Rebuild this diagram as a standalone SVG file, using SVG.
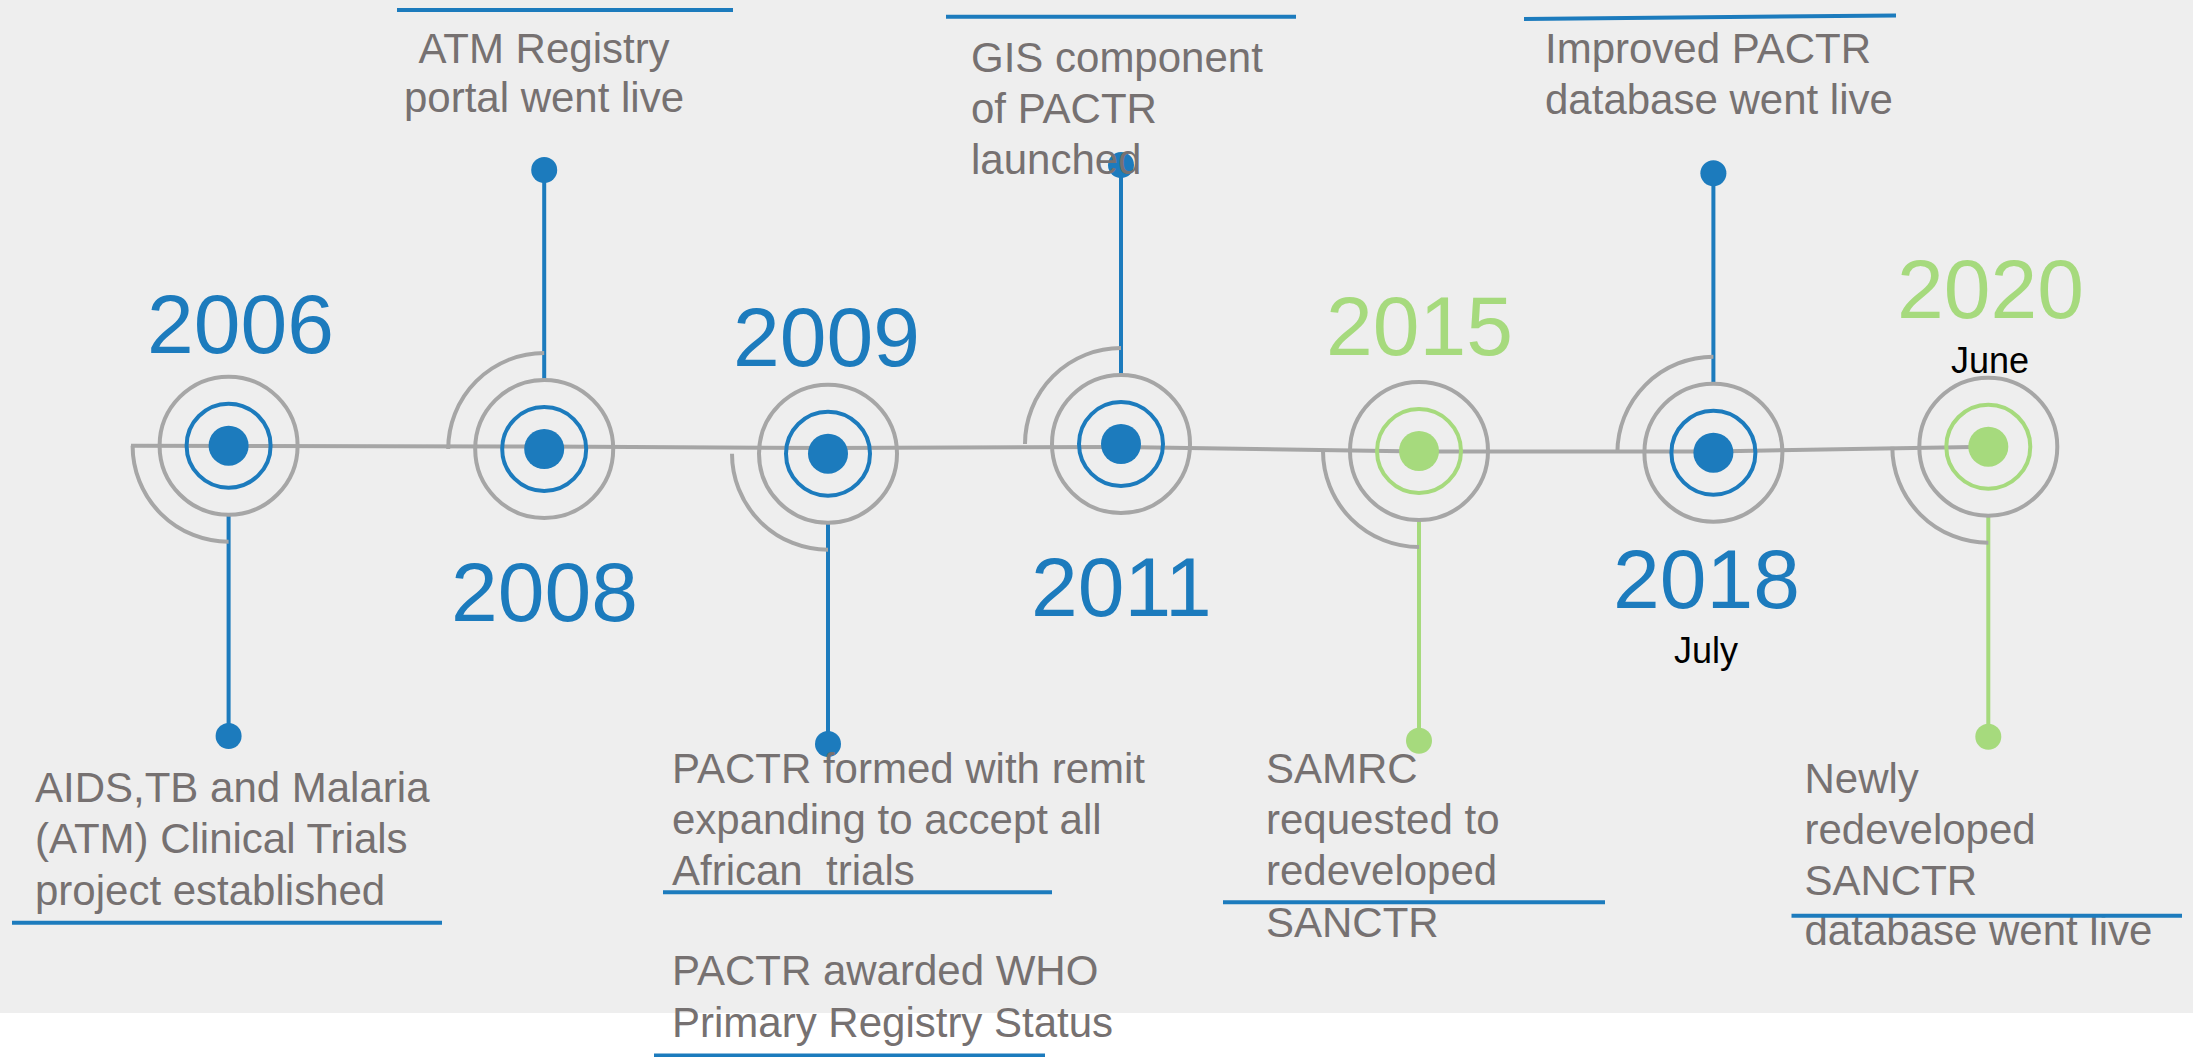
<svg xmlns="http://www.w3.org/2000/svg" width="2193" height="1057" viewBox="0 0 2193 1057">
  <style>
    .ring { fill: none; stroke: #A6A6A6; stroke-width: 4; }
    .arc { fill: none; stroke: #A6A6A6; stroke-width: 4; }
    .blue .inner { fill: none; stroke: #1C7BBD; stroke-width: 4; }
    .blue .core { fill: #1C7BBD; }
    .green .inner { fill: none; stroke: #A6DA7D; stroke-width: 4; }
    .green .core { fill: #A6DA7D; }
    .year { font-family: "Liberation Sans", Arial, sans-serif; font-size: 84px; }
    .blue .year { fill: #1C7BBD; }
    .green .year { fill: #A6DA7D; }
    .month { font-family: "Liberation Sans", Arial, sans-serif; font-size: 36px; fill: #000000; text-anchor: middle; }
    .note { font-family: "Liberation Sans", Arial, sans-serif; font-size: 42px; fill: #767171; }
    .rule { stroke: #1C7BBD; stroke-width: 4; fill: none; }
    .timeline { fill: none; stroke: #A6A6A6; stroke-width: 4; stroke-linejoin: round; }
    .stem-blue { stroke: #1C7BBD; stroke-width: 4; }
    .stem-green { stroke: #A6DA7D; stroke-width: 4; }
    .pin-blue { fill: #1C7BBD; }
    .pin-green { fill: #A6DA7D; }
  </style>

  <!-- backdrop -->
  <rect x="0" y="0" width="2193" height="1057" fill="#FFFFFF"/>
  <rect x="0" y="0" width="2193" height="1013" fill="#EEEEEE"/>

  <!-- timeline axis and the stems that tie each milestone to its note -->
  <g id="connectors">
    <polyline class="timeline" points="131,445.7 544,446.5 828,448 1121,447 1419,451.5 1713,451.5 1988,446.7"/>
    <line class="stem-blue" x1="228.6" y1="515.7" x2="228.6" y2="736"/>
    <circle class="pin-blue" cx="228.6" cy="736" r="13"/>
    <line class="stem-blue" x1="544.2" y1="379" x2="544.2" y2="170"/>
    <circle class="pin-blue" cx="544.2" cy="170" r="13"/>
    <line class="stem-blue" x1="828" y1="523.7" x2="828" y2="744"/>
    <circle class="pin-blue" cx="828" cy="744" r="13"/>
    <line class="stem-blue" x1="1121" y1="374" x2="1121" y2="165"/>
    <circle class="pin-blue" cx="1121" cy="165" r="13"/>
    <line class="stem-green" x1="1419" y1="521" x2="1419" y2="740.7"/>
    <circle class="pin-green" cx="1419" cy="740.7" r="13"/>
    <line class="stem-blue" x1="1713.4" y1="382.7" x2="1713.4" y2="173.3"/>
    <circle class="pin-blue" cx="1713.4" cy="173.3" r="13"/>
    <line class="stem-green" x1="1988.3" y1="516.7" x2="1988.3" y2="736.7"/>
    <circle class="pin-green" cx="1988.3" cy="736.7" r="13"/>
  </g>

  <!-- 2006 -->
  <g id="node-2006" class="blue">
    <path class="arc" d="M132.6,445.7 A96,96 0 0 0 228.6,541.7"/>
    <circle class="ring" cx="228.6" cy="445.7" r="69"/>
    <circle class="inner" cx="228.6" cy="445.7" r="42"/>
    <circle class="core" cx="228.6" cy="445.7" r="20"/>
    <text class="year" x="147" y="353">2006</text>
    <text class="note" x="35" y="801.7">AIDS,TB and Malaria</text>
    <text class="note" x="35" y="853.3">(ATM) Clinical Trials</text>
    <text class="note" x="35" y="905">project established</text>
    <line class="rule" x1="12" y1="922.7" x2="442" y2="922.7"/>
  </g>

  <!-- 2008 -->
  <g id="node-2008" class="blue">
    <path class="arc" d="M448.2,449 A96,96 0 0 1 544.2,353"/>
    <circle class="ring" cx="544.2" cy="449" r="69"/>
    <circle class="inner" cx="544.2" cy="449" r="42"/>
    <circle class="core" cx="544.2" cy="449" r="20"/>
    <text class="year" x="451" y="621">2008</text>
    <line class="rule" x1="397" y1="10" x2="733" y2="10"/>
    <text class="note" x="544" y="62.5" text-anchor="middle">ATM Registry</text>
    <text class="note" x="544" y="112" text-anchor="middle">portal went live</text>
  </g>

  <!-- 2009 -->
  <g id="node-2009" class="blue">
    <path class="arc" d="M732,453.7 A96,96 0 0 0 828,549.7"/>
    <circle class="ring" cx="828" cy="453.7" r="69"/>
    <circle class="inner" cx="828" cy="453.7" r="42"/>
    <circle class="core" cx="828" cy="453.7" r="20"/>
    <text class="year" x="733" y="366">2009</text>
    <text class="note" x="672" y="782.5">PACTR formed with remit</text>
    <text class="note" x="672" y="833.8">expanding to accept all</text>
    <text class="note" x="672" y="884.5" xml:space="preserve">African  trials</text>
    <line class="rule" x1="663" y1="892.3" x2="1052" y2="892.3"/>
    <text class="note" x="672" y="985">PACTR awarded WHO</text>
    <text class="note" x="672" y="1036.5">Primary Registry Status</text>
    <line class="rule" x1="654" y1="1055.5" x2="1045" y2="1055.5"/>
  </g>

  <!-- 2011 -->
  <g id="node-2011" class="blue">
    <path class="arc" d="M1025,444 A96,96 0 0 1 1121,348"/>
    <circle class="ring" cx="1121" cy="444" r="69"/>
    <circle class="inner" cx="1121" cy="444" r="42"/>
    <circle class="core" cx="1121" cy="444" r="20"/>
    <text class="year" x="1031" y="616">2011</text>
    <line class="rule" x1="946" y1="16.7" x2="1296" y2="16.7"/>
    <text class="note" x="971" y="72">GIS component</text>
    <text class="note" x="971" y="123">of PACTR</text>
    <text class="note" x="971" y="174">launched</text>
  </g>

  <!-- 2015 -->
  <g id="node-2015" class="green">
    <path class="arc" d="M1323,451 A96,96 0 0 0 1419,547"/>
    <circle class="ring" cx="1419" cy="451" r="69"/>
    <circle class="inner" cx="1419" cy="451" r="42"/>
    <circle class="core" cx="1419" cy="451" r="20"/>
    <text class="year" x="1326" y="355">2015</text>
    <text class="note" x="1266" y="782.7">SAMRC</text>
    <text class="note" x="1266" y="833.5">requested to</text>
    <text class="note" x="1266" y="885">redeveloped</text>
    <text class="note" x="1266" y="936.5">SANCTR</text>
    <line class="rule" x1="1223" y1="902.3" x2="1605" y2="902.3"/>
  </g>

  <!-- 2018 -->
  <g id="node-2018" class="blue">
    <path class="arc" d="M1617.4,452.7 A96,96 0 0 1 1713.4,356.7"/>
    <circle class="ring" cx="1713.4" cy="452.7" r="69"/>
    <circle class="inner" cx="1713.4" cy="452.7" r="42"/>
    <circle class="core" cx="1713.4" cy="452.7" r="20"/>
    <text class="year" x="1613" y="608">2018</text>
    <text class="month" x="1706" y="663">July</text>
    <line class="rule" x1="1524" y1="19" x2="1896" y2="15.5"/>
    <text class="note" x="1545" y="63.3">Improved PACTR</text>
    <text class="note" x="1545" y="113.5">database went live</text>
  </g>

  <!-- 2020 -->
  <g id="node-2020" class="green">
    <path class="arc" d="M1892.3,446.7 A96,96 0 0 0 1988.3,542.7"/>
    <circle class="ring" cx="1988.3" cy="446.7" r="69"/>
    <circle class="inner" cx="1988.3" cy="446.7" r="42"/>
    <circle class="core" cx="1988.3" cy="446.7" r="20"/>
    <text class="year" x="1897" y="318.3">2020</text>
    <text class="month" x="1990" y="373.3">June</text>
    <text class="note" x="1804.5" y="792.7">Newly</text>
    <text class="note" x="1804.5" y="843.5">redeveloped</text>
    <text class="note" x="1804.5" y="894.5">SANCTR</text>
    <text class="note" x="1804.5" y="945">database went live</text>
    <line class="rule" x1="1791.5" y1="915.7" x2="2182" y2="915.7"/>
  </g>
</svg>
